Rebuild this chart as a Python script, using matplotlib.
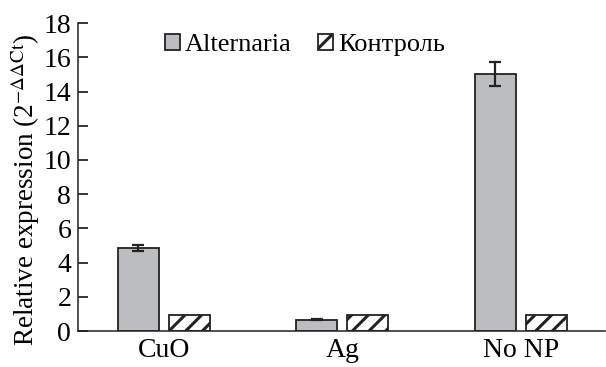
import numpy as np
import matplotlib.pyplot as plt

plt.rcParams['font.family'] = ['Liberation Serif', 'DejaVu Serif']
plt.rcParams['hatch.linewidth'] = 2.2
plt.rcParams['mathtext.fontset'] = 'stix'

# relative expression per treatment
groups = ['CuO', 'Ag', 'No NP']
alternaria = [4.85, 0.65, 15.0]
alternaria_err = [0.18, 0.03, 0.7]
control = [0.92, 0.92, 0.92]
yticks = [0, 2, 4, 6, 8, 10, 12, 14, 16, 18]

fig = plt.figure(figsize=(6.06, 3.67), dpi=100)
ax = fig.add_axes([0.129, 0.098, 0.869, 0.839])

x = np.arange(len(groups))
width = 0.23
offset = 0.143

ax.bar(x - offset, alternaria, width, color='#bcbdc0', edgecolor='#222222',
       linewidth=1.3, label='Alternaria', zorder=2)
ax.errorbar(x - offset, alternaria, yerr=alternaria_err, fmt='none',
            ecolor='#222222', elinewidth=1.6, capsize=4, capthick=1.6, zorder=3)
ax.bar(x + offset, control, width, color='white', edgecolor='#222222',
       linewidth=1.3, hatch='//', label='Контроль', zorder=2)

ax.set_xlim(-0.48, 2.47)
ax.set_ylim(0, 18)
ax.set_yticks(yticks)
ax.set_xticks(x)
ax.set_xticklabels(groups, fontsize=20)
ax.tick_params(axis='x', length=0, pad=5)
ax.tick_params(axis='y', direction='in', length=7, width=1.1, labelsize=20, pad=5)

for side in ('top', 'right'):
    ax.spines[side].set_visible(False)
for side in ('left', 'bottom'):
    ax.spines[side].set_linewidth(1.1)
    ax.spines[side].set_color('#222222')

ax.set_ylabel(r'Relative expression (2$^{-\Delta\Delta\mathrm{Ct}}$)', fontsize=19.5)
ax.yaxis.set_label_coords(-0.068, 0.458)

ax.legend(loc='upper left', bbox_to_anchor=(0.145, 1.0), ncol=2, frameon=False,
          fontsize=19, handlelength=0.55, handleheight=0.55, handletextpad=0.2,
          columnspacing=1.0, borderaxespad=0)

fig.savefig('out.png', dpi=100)
